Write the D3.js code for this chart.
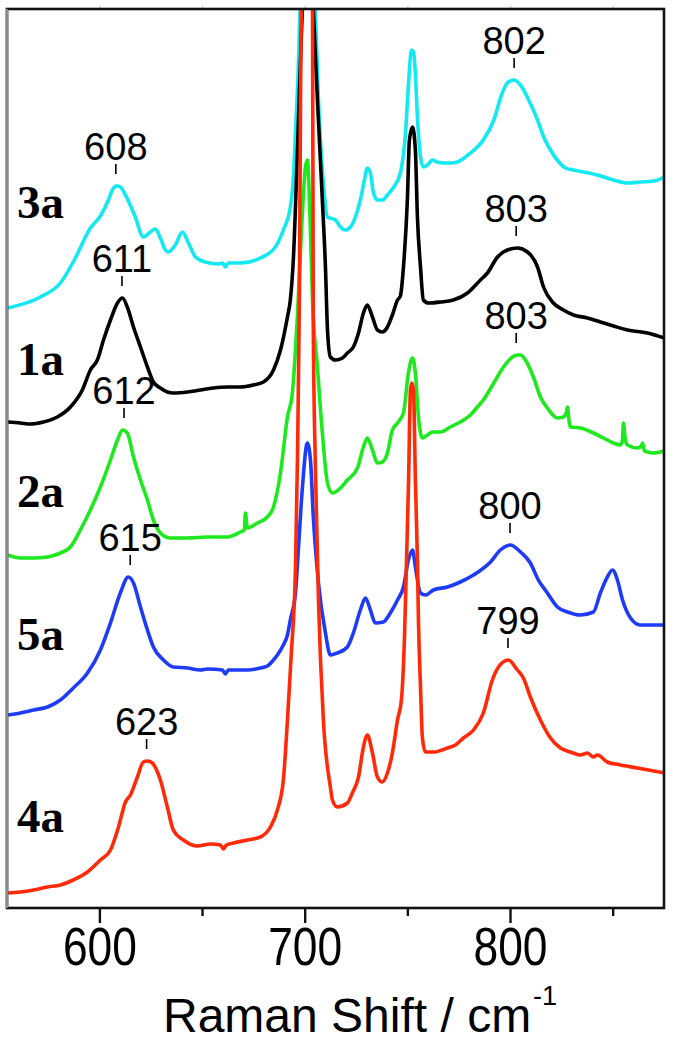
<!DOCTYPE html>
<html>
<head>
<meta charset="utf-8">
<script src="https://d3js.org/d3.v7.min.js"></script>
<style>
  body { margin: 0; background: #fff; }
  svg { display: block; }
</style>
</head>
<body>
<script>
// Raman spectra, stacked (wavenumber in cm-1, intensity in arbitrary units incl. offset)
var seriesNames = ["3a", "1a", "2a", "5a", "4a"];

var s3a = [[555.2,600],[571.3,611],[581,625],[588.3,650],[595.6,680],[600.5,692],[604.4,708],[606.3,718],[608.3,722],[610.2,721],[612.7,713],[617.5,691],[621.4,671],[624.8,676],[627.3,679],[629.7,670],[632.1,658],[633.6,656],[637,663],[640.4,676],[643.4,665],[646.8,651],[651.6,646],[658,644],[660,645],[661.4,641],[662.8,645],[668.7,645],[678.4,650],[685.7,661],[689.6,678],[693,701],[694.5,731],[695.5,775],[696.9,841],[698,920],[699.5,1050],[701,1100],[703,1050],[705.2,898],[706.7,808],[709.1,725],[711.1,691],[715,688],[717.4,681],[719.8,678],[722.3,681],[724.7,691],[727.1,708],[729.1,728],[730.5,740],[732,735],[733.5,715],[735.4,708],[737.8,708],[740.3,713],[743.4,721],[746.6,735],[749.1,775],[750.6,825],[752,858],[753,856],[753.9,835],[754.9,791],[756.4,751],[757.8,741],[759.8,743],[762.2,748],[764.5,746],[767.7,745],[771,745],[774.4,746],[780.7,755],[787,768],[792.1,788],[796.2,815],[798.7,825],[801.8,828],[805.1,823],[809.1,808],[813.4,788],[816.4,771],[819.7,758],[823,748],[827,740],[830.9,738],[835.9,736],[842.6,733],[850.4,728],[857.2,725],[863.5,726],[870,727],[875.2,731]];

var s1a = [[555.2,486],[561.5,485],[566.4,484],[572.7,486],[579.5,491],[585.9,501],[591.7,518],[595.6,538],[599,548],[602,568],[605.4,588],[608.8,605],[611.2,610],[613.6,601],[616.6,581],[620,561],[623.4,541],[626.3,526],[629.7,520],[633.1,516],[636,515],[642.9,516],[649.2,518],[655.5,520],[662.3,521],[668.7,521],[675,523],[679.9,526],[684.8,538],[688.2,558],[691.6,591],[693,608],[694.5,650],[696.5,760],[698.5,880],[701.5,1000],[704.2,898],[706.2,808],[708.6,708],[710.1,641],[711.1,578],[712.5,551],[715,548],[718.4,550],[720.8,555],[723.7,561],[726.2,575],[728.6,595],[730.5,603],[733,591],[735.4,578],[737.8,576],[740.3,581],[742.7,593],[745.2,608],[746.6,612],[748.1,641],[750,708],[751,768],[752.5,781],[753.9,758],[754.9,691],[756.4,641],[757.8,608],[760.3,605],[766.1,606],[772.4,608],[779.3,615],[785.6,628],[789,635],[793.9,651],[798.7,658],[803.6,660],[808.5,656],[813.4,641],[816.3,621],[821.1,605],[826,598],[830.9,593],[837.7,590],[844,586],[850.4,582],[857.2,578],[866.9,575],[875.2,570]];

var s2a = [[555.2,353],[561.5,350],[567.9,350],[574.7,351],[581,355],[585.9,361],[590.7,378],[595.6,398],[600.5,421],[605.4,448],[608.8,468],[611.2,478],[613.6,475],[616.6,451],[620,428],[623.4,408],[626.3,388],[629.7,375],[634.6,370],[642.9,370],[652.6,371],[662.3,371],[668.7,376],[670.6,378],[671.1,395],[672.1,380],[677,385],[681.8,391],[684.8,401],[688.2,435],[691.6,491],[694,515],[695.5,558],[696.4,590],[698.5,680],[700.3,740],[701.3,748],[702.6,690],[703.8,608],[706.2,541],[708.6,475],[711.1,425],[713.5,415],[716.4,418],[720.8,428],[725.7,440],[728.6,461],[730.5,470],[733,458],[735.4,445],[737.8,446],[740.3,455],[742.7,478],[745.2,485],[748.1,495],[750.5,535],[752.5,550],[753.9,535],[755.4,491],[757.3,470],[759.8,473],[762.2,476],[766.1,476],[771,481],[775.8,486],[780.7,493],[784.1,501],[787,508],[792.1,525],[796.8,541],[801.2,551],[803.6,553],[805.1,553],[807.5,548],[811.4,531],[814.8,511],[818.2,500],[823.1,490],[826,491],[827.5,496],[828,501],[828.7,488],[829.4,481],[834.3,480],[840.6,475],[845.5,470],[850.4,465],[853.8,463],[854.8,468],[855.2,485],[856.2,468],[857.2,463],[862.1,460],[864,462],[864.5,465],[865.5,457],[869.9,455],[875.2,457]];

var s5a = [[555.2,193],[561.5,195],[567.9,198],[574.7,201],[581,208],[587.3,220],[594.2,235],[600.5,258],[605.4,285],[610.2,315],[614.1,331],[616.6,325],[620,301],[623.4,278],[626.3,261],[631.2,248],[636,241],[642.9,240],[649.2,238],[652.6,239],[659.9,238],[661.4,234],[662.8,238],[672.1,238],[678.4,240],[681.8,242],[684.8,248],[686.7,253],[689.6,263],[691.6,273],[693,288],[695.5,315],[696.9,358],[698.9,421],[701.3,465],[702.8,448],[704.2,391],[706.7,325],[710.1,275],[712.5,253],[715.9,255],[720.8,261],[723.7,275],[727.1,298],[729.6,310],[732,298],[734.4,285],[738.3,286],[741.7,295],[745.2,308],[748.1,321],[750.5,348],[752.5,358],[753.9,341],[756.4,315],[758.8,313],[762.7,318],[769.5,321],[775.8,326],[782.2,333],[790.5,346],[795.3,358],[800.2,363],[805.1,356],[809.9,345],[813.8,328],[818.2,315],[823.1,301],[828,296],[834.3,293],[840.6,296],[844,315],[847.4,331],[849.9,338],[852.3,328],[854.8,308],[858.7,290],[863.5,283],[870,283],[875.2,283]];

var s4a = [[555.2,15],[561.5,16],[567.9,18],[574.7,21],[581,23],[587.3,28],[594.2,36],[600.5,48],[605.4,58],[609.3,81],[612.7,106],[615.1,113],[618.5,131],[621.4,146],[623.4,147],[625.8,145],[629.7,128],[633.1,101],[636,78],[640.9,68],[647.7,62],[654.1,64],[658.9,63],[660.4,59],[661.9,63],[665.3,65],[672.1,68],[678.4,71],[683.3,81],[686.7,98],[689.6,128],[691.6,188],[693.5,255],[695.5,341],[696.4,441],[697.4,608],[698,820],[699.5,1150],[701,1250],[702.5,1150],[703.8,900],[704.2,578],[705.2,441],[706.7,308],[709.1,188],[712.5,121],[713.5,108],[715.9,101],[720.8,105],[723.2,115],[726.2,131],[728.6,161],[730.5,173],[733,155],[735.4,131],[737.8,126],[740.3,135],[742.7,155],[745.2,188],[747.1,208],[748.6,271],[749.6,348],[750.6,428],[751.5,518],[752.2,525],[753,518],[753.9,428],[754.9,348],[755.4,288],[756.4,221],[757.3,171],[758.8,156],[762.7,156],[769.5,160],[773.4,163],[777.3,170],[782.2,178],[787,195],[791.4,228],[794.4,241],[799.2,248],[803.6,238],[806.5,230],[809.9,211],[814.8,188],[819.7,170],[824.6,160],[829.4,156],[834.3,153],[837.7,155],[840.6,151],[842.6,153],[847.4,146],[853.8,143],[862.1,140],[870,137],[875.2,135]];

// peak annotations: series and wavenumber
var peakLabels = [
  {series: "3a", at: 608}, {series: "3a", at: 802},
  {series: "1a", at: 611}, {series: "1a", at: 803},
  {series: "2a", at: 612}, {series: "2a", at: 803},
  {series: "5a", at: 615}, {series: "5a", at: 800},
  {series: "4a", at: 623}, {series: "4a", at: 799}
];

var majorTicks = [600, 700, 800];
var minorTicks = [650, 750, 850];

// ---- styles / layout ----
var seriesData = {"3a": s3a, "1a": s1a, "2a": s2a, "5a": s5a, "4a": s4a};
var colors = {"3a": "#14e8f0", "1a": "#000000", "2a": "#1ee81e", "5a": "#1e3cf8", "4a": "#ff2a08"};
var nameY = {"3a": 218, "1a": 375, "2a": 507, "5a": 650, "4a": 832};

var W = 678, H = 1050;
var plotL = 7, plotR = 664, plotT = 9, plotB = 908;

var svg = d3.select("body").append("svg").attr("width", W).attr("height", H);

var x = d3.scaleLinear().domain([555, 875]).range([plotL, plotR]);
var y = d3.scaleLinear().domain([0, 899]).range([plotB, plotT]);

svg.append("clipPath").attr("id", "plotclip")
  .append("rect").attr("x", plotL).attr("y", plotT).attr("width", plotR - plotL).attr("height", plotB - plotT);

var line = d3.line()
  .x(function(d){ return x(d[0]); })
  .y(function(d){ return y(d[1]); })
  .curve(d3.curveMonotoneX);

var plot = svg.append("g").attr("clip-path", "url(#plotclip)");
seriesNames.forEach(function(name){
  plot.append("path")
    .attr("d", line(seriesData[name]))
    .attr("fill", "none")
    .attr("stroke", colors[name])
    .attr("stroke-width", 3.6)
    .attr("stroke-linejoin", "round");
});

// faint ticks above the top edge
var topAxis = svg.append("g").attr("transform", "translate(0," + plotT + ")")
  .call(d3.axisTop(x).tickValues(majorTicks.concat(minorTicks)).tickSize(3).tickFormat(""));
topAxis.select(".domain").remove();
topAxis.selectAll("line").attr("stroke", "#cfcfcf").attr("stroke-width", 1.5);

// frame
svg.append("rect").attr("x", plotL).attr("y", plotT).attr("width", plotR - plotL).attr("height", plotB - plotT)
  .attr("fill", "none").attr("stroke", "#111").attr("stroke-width", 2.6);
svg.append("line").attr("x1", plotL).attr("x2", plotL).attr("y1", plotT).attr("y2", plotB)
  .attr("stroke", "#8a8a8a").attr("stroke-width", 2.6);

// bottom axis
var xMajor = svg.append("g").attr("transform", "translate(0," + plotB + ")")
  .call(d3.axisBottom(x).tickValues(majorTicks).tickSize(15).tickFormat(d3.format("d")));
xMajor.select(".domain").remove();
xMajor.selectAll("line").attr("stroke", "#111").attr("stroke-width", 2.4);
xMajor.selectAll("text")
  .attr("y", 57).attr("dy", null)
  .attr("fill", "#000")
  .attr("font-family", "Liberation Sans, Arial, sans-serif")
  .attr("font-size", 53)
  .attr("textLength", 74).attr("lengthAdjust", "spacingAndGlyphs");

var xMinor = svg.append("g").attr("transform", "translate(0," + plotB + ")")
  .call(d3.axisBottom(x).tickValues(minorTicks).tickSize(8).tickFormat(""));
xMinor.select(".domain").remove();
xMinor.selectAll("line").attr("stroke", "#111").attr("stroke-width", 2.4);

// axis title
var title = svg.append("text")
  .attr("x", 163).attr("y", 1032)
  .attr("font-family", "Liberation Sans, Arial, sans-serif")
  .attr("font-size", 48).attr("fill", "#000");
title.append("tspan").text("Raman Shift / cm");
title.append("tspan").attr("font-size", 27).attr("dy", -27).attr("dx", 2).text("-1");

// series names
seriesNames.forEach(function(name){
  svg.append("text")
    .attr("x", 17).attr("y", nameY[name])
    .attr("font-family", "Liberation Serif, Times New Roman, serif")
    .attr("font-weight", "bold").attr("font-size", 47)
    .attr("fill", "#000")
    .text(name);
});

// peak labels
function peakValue(name, at) {
  var pts = seriesData[name].filter(function(d){ return Math.abs(d[0] - at) <= 4; });
  return d3.max(pts, function(d){ return d[1]; });
}
var pl = svg.append("g");
peakLabels.forEach(function(p){
  var px = x(p.at), py = y(peakValue(p.series, p.at));
  pl.append("line").attr("x1", px).attr("x2", px).attr("y1", py - 22).attr("y2", py - 12)
    .attr("stroke", "#000").attr("stroke-width", 1.6);
  pl.append("text").attr("x", px).attr("y", py - 26)
    .attr("text-anchor", "middle")
    .attr("font-family", "Liberation Sans, Arial, sans-serif")
    .attr("font-size", 38).attr("fill", "#000")
    .text(p.at);
});
</script>
</body>
</html>
